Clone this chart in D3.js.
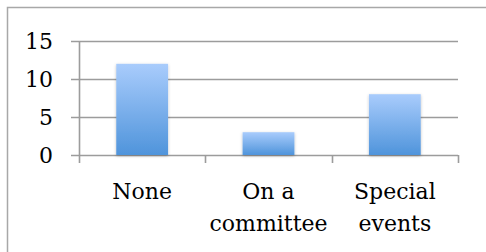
<!DOCTYPE html>
<html>
<head>
<meta charset="utf-8">
<script src="https://cdn.jsdelivr.net/npm/d3@7"></script>
<style>
  body { margin: 0; background: #fff; }
  svg { display: block; }
</style>
</head>
<body>
<div id="chart"></div>
<script>
const categories = [["None"], ["On a", "committee"], ["Special", "events"]];
const values = [12, 3, 8];
const yTicks = [0, 5, 10, 15];

const width = 486, height = 252;
const margin = { top: 41, right: 28, bottom: 97, left: 79 };

const svg = d3.select("#chart").append("svg")
  .attr("width", width).attr("height", height);

const defs = svg.append("defs");
const grad = defs.append("linearGradient")
  .attr("id", "barGrad").attr("x1", 0).attr("y1", 0).attr("x2", 0).attr("y2", 1);
grad.append("stop").attr("offset", "0%").attr("stop-color", "#a9ccfc");
grad.append("stop").attr("offset", "100%").attr("stop-color", "#4f94db");

const shadow = defs.append("filter").attr("id", "shadow")
  .attr("x", "-20%").attr("y", "-20%").attr("width", "140%").attr("height", "140%");
shadow.append("feDropShadow").attr("dx", 0).attr("dy", 1).attr("stdDeviation", 1.5)
  .attr("flood-color", "#000").attr("flood-opacity", 0.25);

// outer frame (only left and top visible in reference)
svg.append("path")
  .attr("d", `M7.5,${height} V7.5 H${width}`)
  .attr("fill", "none").attr("stroke", "#a8a8a8").attr("stroke-width", 1.5);

const x = d3.scaleBand()
  .domain(d3.range(categories.length))
  .range([margin.left, width - margin.right])
  .paddingInner(0.59).paddingOuter(0.295);

const y = d3.scaleLinear()
  .domain([0, 15])
  .range([height - margin.bottom, margin.top]);

const gray = "#9c9c9c";
const x0 = margin.left, x1 = width - margin.right;

// gridlines + left ticks
svg.append("g").selectAll("line").data(yTicks).join("line")
  .attr("x1", x0 - 8).attr("x2", x1)
  .attr("y1", d => Math.round(y(d)) + 0.5).attr("y2", d => Math.round(y(d)) + 0.5)
  .attr("stroke", gray).attr("stroke-width", 1.6);

// y axis line
svg.append("line")
  .attr("x1", x0 + 0.5).attr("x2", x0 + 0.5)
  .attr("y1", y(15)).attr("y2", y(0) + 8)
  .attr("stroke", gray).attr("stroke-width", 1.6);

// category ticks
const bandEdges = d3.range(categories.length + 1).map(i => x0 + i * (x1 - x0) / categories.length);
svg.append("g").selectAll("line").data(bandEdges.slice(1)).join("line")
  .attr("x1", d => Math.round(d) + 0.5).attr("x2", d => Math.round(d) + 0.5)
  .attr("y1", y(0)).attr("y2", y(0) + 8)
  .attr("stroke", gray).attr("stroke-width", 1.6);

// y labels
svg.append("g").selectAll("text").data(yTicks).join("text")
  .attr("x", 53).attr("y", d => y(d))
  .attr("dy", "0.36em")
  .attr("text-anchor", "end")
  .attr("font-family", "DejaVu Serif")
  .attr("font-size", 22)
  .attr("fill", "#000")
  .text(d => d);

// bars
svg.append("g").selectAll("rect").data(values).join("rect")
  .attr("x", (d, i) => x(i))
  .attr("width", x.bandwidth())
  .attr("y", d => y(d))
  .attr("height", d => y(0) - y(d))
  .attr("fill", "url(#barGrad)")
  .attr("filter", "url(#shadow)");

// category labels
const labels = svg.append("g").selectAll("text").data(categories).join("text")
  .attr("x", (d, i) => x(i) + x.bandwidth() / 2)
  .attr("y", 199)
  .attr("text-anchor", "middle")
  .attr("font-family", "DejaVu Serif")
  .attr("font-size", 22)
  .attr("fill", "#000");

labels.selectAll("tspan").data(d => d).join("tspan")
  .attr("x", function () { return d3.select(this.parentNode).attr("x"); })
  .attr("dy", (d, i) => i === 0 ? 0 : 32)
  .text(d => d);
</script>
</body>
</html>
